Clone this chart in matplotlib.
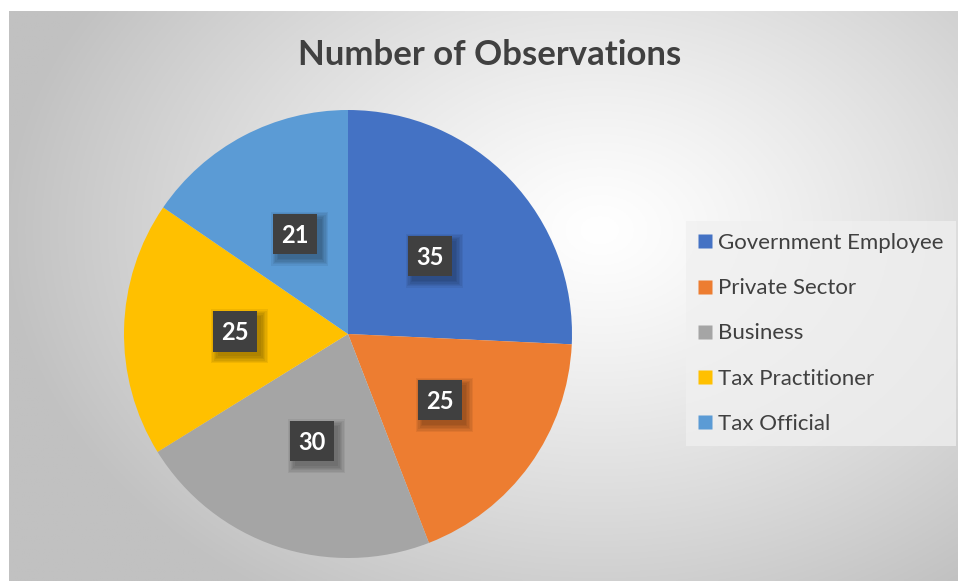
import numpy as np
import matplotlib
matplotlib.use("Agg")
import matplotlib.pyplot as plt
from matplotlib.patches import Rectangle
from matplotlib.lines import Line2D

plt.rcParams['font.family'] = ['Lato', 'DejaVu Sans']

# data
categories = ["Government Employee", "Private Sector", "Business", "Tax Practitioner", "Tax Official"]
counts = [35, 25, 30, 25, 21]
colors = ["#4472C4", "#ED7D31", "#A5A5A5", "#FFC000", "#5B9BD5"]

W, H = 958, 581
fig = plt.figure(figsize=(W / 100, H / 100), dpi=100)
fig.patch.set_facecolor("white")

# radial gradient backdrop of the chart area
x0, y0 = 9, 11
bg = fig.add_axes([x0 / W, 0, 1 - x0 / W, (H - y0) / H])
xs = np.linspace(x0, W, 400)
ys = np.linspace(y0, H, 260)
X, Y = np.meshgrid(xs, ys)
d = np.sqrt(((X - 600) / 600) ** 2 + ((Y - 230) / 440) ** 2)
shade = 255 - 62 * np.clip(d, 0, 1) ** 1.2
img = np.dstack([shade, shade, shade]) / 255
bg.imshow(img, extent=[x0, W, H, y0], aspect="auto")
bg.set_xlim(x0, W)
bg.set_ylim(H, y0)
bg.axis("off")

fig.text(490 / W, 1 - 55 / H, "Number of Observations", ha="center", va="center",
         fontsize=25, fontweight="bold", color="#404040")

# pie
cx, cy, R = 348, 334, 224
ax = fig.add_axes([(cx - R) / W, (H - cy - R) / H, 2 * R / W, 2 * R / H])
wedges, _ = ax.pie(counts, colors=colors, startangle=90, counterclock=False,
                   radius=1, wedgeprops=dict(linewidth=0))
ax.set_xlim(-1, 1)
ax.set_ylim(-1, 1)
ax.set_aspect("equal")
ax.axis("off")

# value boxes with a soft drop shadow
total = sum(counts)
start = 90.0
for v in counts:
    sweep = 360.0 * v / total
    mid = np.deg2rad(start - sweep / 2)
    start -= sweep
    lx, ly = 0.505 * np.cos(mid), 0.505 * np.sin(mid)
    bw, bh = 0.195, 0.18
    for k in range(6):
        g = 0.006 * k
        ax.add_patch(Rectangle((lx - bw / 2 + 0.02 - g, ly - bh / 2 - 0.022 - g),
                               bw + 2 * g, bh + 2 * g, facecolor="black",
                               alpha=0.06, edgecolor="none", zorder=3))
    ax.add_patch(Rectangle((lx - bw / 2, ly - bh / 2), bw, bh,
                           facecolor="#404040", edgecolor="none", zorder=4))
    ax.text(lx, ly - 0.005, str(v), ha="center", va="center", color="white",
            fontsize=17, fontweight="bold", zorder=5)

# legend
handles = [Line2D([], [], marker="s", linestyle="none", markersize=10,
                  markerfacecolor=c, markeredgecolor="none") for c in colors]
leg = fig.legend(handles, categories, loc="upper left",
                 bbox_to_anchor=(686 / W, 1 - 221 / H), borderaxespad=0,
                 frameon=True, fontsize=16, labelspacing=1.13,
                 handlelength=0.6, handletextpad=0.3, borderpad=0.55,
                 fancybox=False, labelcolor="#404040")
leg.get_frame().set_facecolor("#f0f0f0")
leg.get_frame().set_edgecolor("none")
leg.get_frame().set_alpha(0.75)

fig.savefig("out.png", dpi=100)
